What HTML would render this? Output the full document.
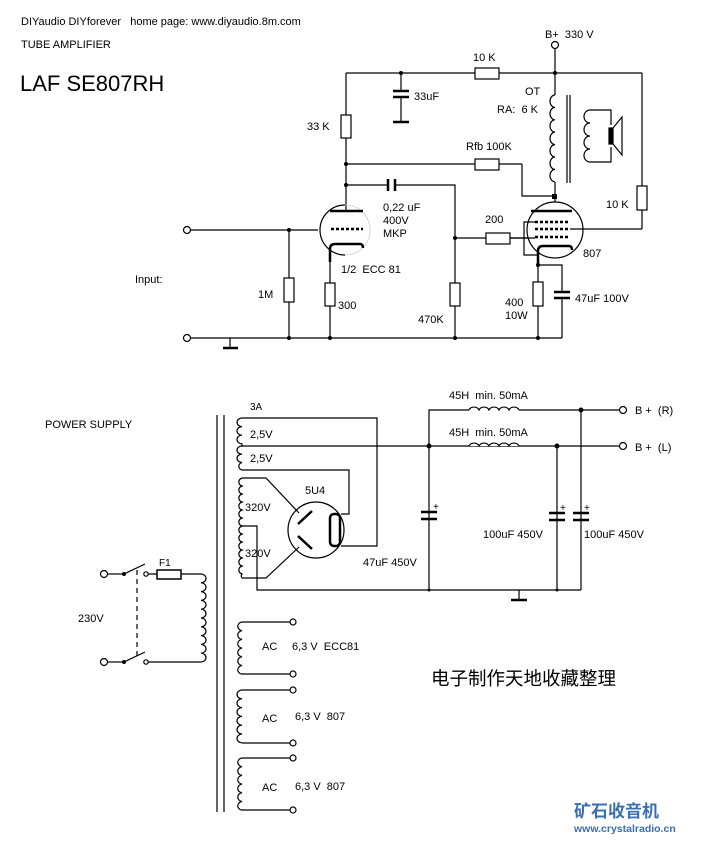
<!DOCTYPE html>
<html><head><meta charset="utf-8"><style>
html,body{margin:0;padding:0;background:#fff}
svg{display:block}
text{font-family:"Liberation Sans",Arial,sans-serif;fill:#000;font-size:11px}
</style></head><body>
<svg width="704" height="844" viewBox="0 0 704 844" xmlns="http://www.w3.org/2000/svg">
<g stroke="#000" stroke-width="1.2" fill="none">
<line x1="346" y1="73" x2="642" y2="73"/>
<line x1="555" y1="49" x2="555" y2="95"/>
<circle cx="555" cy="45" r="3.5" fill="#fff"/>
<rect x="475" y="68" width="24" height="11" fill="#fff"/>
<line x1="401" y1="73" x2="401" y2="91"/>
<line x1="393" y1="91" x2="409" y2="91" stroke-width="2.5"/>
<line x1="393" y1="97" x2="409" y2="97" stroke-width="2.5"/>
<line x1="401" y1="97" x2="401" y2="122"/>
<line x1="393" y1="122" x2="409" y2="122" stroke-width="2.5"/>
<line x1="346" y1="73" x2="346" y2="211"/>
<rect x="341" y="115" width="10" height="23" fill="#fff"/>
<line x1="346" y1="164" x2="522" y2="164"/>
<rect x="475" y="159" width="24" height="11" fill="#fff"/>
<polyline points="522,164 522,196 555,196"/>
<line x1="346" y1="185" x2="388" y2="185"/>
<line x1="388" y1="179" x2="388" y2="191" stroke-width="2.5"/>
<line x1="395" y1="179" x2="395" y2="191" stroke-width="2.5"/>
<polyline points="395,185 455,185 455,338"/>
<rect x="450" y="283" width="10" height="23" fill="#fff"/>
<path d="M345,205 A25,25 0 0 0 345,255"/>
<path d="M345,205 A25,25 0 0 1 345,255" stroke="#ccc" stroke-width="0.8"/>
<line x1="330" y1="211" x2="363" y2="211" stroke-width="2.5"/>
<line x1="331" y1="229" x2="363" y2="229" stroke-width="2.5" stroke-dasharray="3,2"/>
<path d="M330,262 L330,249 Q330,244 335,244 L360,244 Q363,244 363,248" stroke-width="2.5"/>
<line x1="330" y1="262" x2="330" y2="338"/>
<rect x="325" y="283" width="10" height="23" fill="#fff"/>
<line x1="190" y1="230" x2="318" y2="230"/>
<circle cx="187" cy="230" r="3.5" fill="#fff"/>
<line x1="190" y1="338" x2="562" y2="338"/>
<circle cx="187" cy="338" r="3.5" fill="#fff"/>
<line x1="289" y1="230" x2="289" y2="338"/>
<rect x="284" y="278" width="10" height="24" fill="#fff"/>
<line x1="230" y1="338" x2="230" y2="348"/>
<line x1="223" y1="348" x2="238" y2="348" stroke-width="2.5"/>
<line x1="455" y1="238" x2="540" y2="238"/>
<rect x="486" y="233" width="24" height="11" fill="#fff"/>
<line x1="555" y1="182" x2="555" y2="211"/>
<circle cx="555" cy="230" r="28" fill="#fff"/>
<line x1="531" y1="211" x2="572" y2="211" stroke-width="2.5"/>
<line x1="535" y1="222" x2="570" y2="222" stroke-width="2.5" stroke-dasharray="3,2"/>
<line x1="535" y1="229" x2="570" y2="229" stroke-width="2.5" stroke-dasharray="3,2"/>
<line x1="535" y1="237" x2="570" y2="237" stroke-width="2.5" stroke-dasharray="3,2"/>
<line x1="510" y1="238" x2="535" y2="238"/>
<polyline points="535,222 524,222 524,255 538,255"/>
<line x1="570" y1="229" x2="642" y2="229"/>
<path d="M538,265 L538,251 Q538,246 543,246 L569,246 Q572,246 572,250" stroke-width="2.5"/>
<line x1="538" y1="265" x2="538" y2="338"/>
<rect x="533" y="282" width="10" height="24" fill="#fff"/>
<polyline points="538,265 562,265 562,292"/>
<line x1="554" y1="292" x2="570" y2="292" stroke-width="2.5"/>
<line x1="554" y1="298" x2="570" y2="298" stroke-width="2.5"/>
<line x1="562" y1="298" x2="562" y2="338"/>
<line x1="642" y1="73" x2="642" y2="229"/>
<rect x="637" y="186" width="10" height="24" fill="#fff"/>
<path d="M555,95 a5,6.2 0 0 0 0,12.4 a5,6.2 0 0 0 0,12.4 a5,6.2 0 0 0 0,12.4 a5,6.2 0 0 0 0,12.4 a5,6.2 0 0 0 0,12.4 a5,6.2 0 0 0 0,12.4 a5,6.2 0 0 0 0,12.4"/>
<line x1="567" y1="95" x2="567" y2="183"/>
<line x1="570" y1="95" x2="570" y2="183"/>
<path d="M590,110 a6,6.5 0 0 0 0,13 a6,6.5 0 0 0 0,13 a6,6.5 0 0 0 0,13 a6,6.5 0 0 0 0,13"/>
<polyline points="590,110 611,110 611,125"/>
<polyline points="590,162 611,162 611,147"/>
<rect x="609" y="128" width="4" height="16" fill="#000"/>
<polyline points="613,128 622,117 622,155 613,144"/>
</g>
<g fill="#000">
<circle cx="401" cy="73" r="2"/><circle cx="555" cy="73" r="2"/>
<circle cx="346" cy="164" r="2"/><circle cx="346" cy="185" r="2"/>
<circle cx="289" cy="230" r="2"/><circle cx="289" cy="338" r="2"/>
<circle cx="330" cy="338" r="2"/><circle cx="455" cy="238" r="2"/>
<circle cx="455" cy="338" r="2"/><circle cx="538" cy="338" r="2"/>
<circle cx="538" cy="265" r="2"/><rect x="552" y="194" width="5" height="5"/>
</g>
<text x="21" y="25">DIYaudio DIYforever &#160;&#160;home page: www.diyaudio.8m.com</text>
<text x="21" y="48">TUBE AMPLIFIER</text>
<text x="20" y="91" style="font-size:22px">LAF SE807RH</text>
<text x="545" y="38">B+ &#160;330 V</text>
<text x="473" y="61">10 K</text>
<text x="414" y="100">33uF</text>
<text x="525" y="95">OT</text>
<text x="497" y="113">RA: &#160;6 K</text>
<text x="307" y="130">33 K</text>
<text x="466" y="150">Rfb 100K</text>
<text x="383" y="211">0,22 uF</text>
<text x="383" y="224">400V</text>
<text x="383" y="237">MKP</text>
<text x="485" y="223">200</text>
<text x="606" y="208">10 K</text>
<text x="583" y="257">807</text>
<text x="341" y="273">1/2 &#160;ECC 81</text>
<text x="135" y="283">Input:</text>
<text x="258" y="298">1M</text>
<text x="338" y="309">300</text>
<text x="418" y="323">470K</text>
<text x="505" y="306">400</text>
<text x="505" y="319">10W</text>
<text x="575" y="302">47uF 100V</text>

<g stroke="#000" stroke-width="1.2" fill="none">
<line x1="217" y1="415" x2="217" y2="812"/>
<line x1="224" y1="415" x2="224" y2="812"/>
<path d="M242,418 a5,4.3 0 0 0 0,8.6 a5,4.3 0 0 0 0,8.6 a5,4.3 0 0 0 0,8.6 a5,4.3 0 0 0 0,2.2 a5,4.1 0 0 0 0,8.2 a5,4.1 0 0 0 0,8.2 a5,4.1 0 0 0 0,7.6"/>
<polyline points="242,418 377,418 377,546 341,546"/>
<line x1="242" y1="446" x2="620" y2="446"/>
<polyline points="242,470 349,470 349,514 341,514"/>
<path d="M242,478 a5,4.3 0 0 0 0,8 a5,4.3 0 0 0 0,8 a5,4.3 0 0 0 0,8 a5,4.3 0 0 0 0,8 a5,4.3 0 0 0 0,8 a5,4.3 0 0 0 0,8 a5,4.3 0 0 0 0,8 a5,4.3 0 0 0 0,8 a5,4.3 0 0 0 0,8 a5,4.3 0 0 0 0,8 a5,4.3 0 0 0 0,8 a5,4.3 0 0 0 0,8 a5,4 0 0 0 0,4"/>
<polyline points="242,478 266,478 299,513"/>
<polyline points="242,578 266,578 299,547"/>
<polyline points="242,526 257,526 257,590 581,590"/>
<circle cx="316" cy="530" r="28"/>
<line x1="298" y1="524" x2="312" y2="511" stroke-width="2.5"/>
<line x1="298" y1="536" x2="312" y2="549" stroke-width="2.5"/>
<rect x="330" y="514" width="10" height="32" rx="4" stroke-width="2.5"/>
<polyline points="429,590 429,410 469,410"/>
<path d="M469,410 a5.5,5 0 0 1 10,0 a5.5,5 0 0 1 10,0 a5.5,5 0 0 1 10,0 a5.5,5 0 0 1 10,0 a5.5,5 0 0 1 10,0"/>
<line x1="519" y1="410" x2="620" y2="410"/>
<path d="M469,446 a5.5,5 0 0 1 10,0 a5.5,5 0 0 1 10,0 a5.5,5 0 0 1 10,0 a5.5,5 0 0 1 10,0 a5.5,5 0 0 1 10,0" fill="#fff"/>
<circle cx="623" cy="410" r="3.5" fill="#fff"/>
<circle cx="623" cy="446" r="3.5" fill="#fff"/>
<line x1="557" y1="446" x2="557" y2="590"/>
<line x1="581" y1="410" x2="581" y2="590"/>
<g stroke-width="2.5">
<line x1="421" y1="512" x2="437" y2="512"/><line x1="421" y1="519" x2="437" y2="519"/>
<line x1="549" y1="513" x2="565" y2="513"/><line x1="549" y1="520" x2="565" y2="520"/>
<line x1="573" y1="513" x2="589" y2="513"/><line x1="573" y1="520" x2="589" y2="520"/>
<line x1="511" y1="600" x2="527" y2="600"/>
</g>
<line x1="519" y1="590" x2="519" y2="600"/>
<circle cx="104" cy="574" r="3.5" fill="#fff"/>
<circle cx="104" cy="662" r="3.5" fill="#fff"/>
<line x1="108" y1="574" x2="124" y2="574"/>
<line x1="108" y1="662" x2="124" y2="662"/>
<line x1="124" y1="574" x2="145" y2="564"/>
<line x1="124" y1="662" x2="145" y2="652"/>
<circle cx="146" cy="574" r="2.2" fill="#fff"/>
<circle cx="146" cy="662" r="2.2" fill="#fff"/>
<line x1="137" y1="570" x2="137" y2="658" stroke-dasharray="5,4"/>
<line x1="148" y1="574" x2="201" y2="574"/>
<rect x="157" y="570" width="24" height="9" fill="#fff" stroke-width="1.5"/>
<path d="M201,574 a5,4.4 0 0 1 0,8.8 a5,4.4 0 0 1 0,8.8 a5,4.4 0 0 1 0,8.8 a5,4.4 0 0 1 0,8.8 a5,4.4 0 0 1 0,8.8 a5,4.4 0 0 1 0,8.8 a5,4.4 0 0 1 0,8.8 a5,4.4 0 0 1 0,8.8 a5,4.4 0 0 1 0,8.8 a5,4.4 0 0 1 0,8.8"/>
<line x1="148" y1="662" x2="201" y2="662"/>
<path d="M242,622 a5,4.4 0 0 0 0,8.7 a5,4.4 0 0 0 0,8.7 a5,4.4 0 0 0 0,8.7 a5,4.4 0 0 0 0,8.7 a5,4.4 0 0 0 0,8.7 a5,4.4 0 0 0 0,8.7"/>
<line x1="242" y1="622" x2="290" y2="622"/><line x1="242" y1="674" x2="290" y2="674"/>
<circle cx="293" cy="622" r="3" fill="#fff"/><circle cx="293" cy="674" r="3" fill="#fff"/>
<path d="M242,690 a5,4.4 0 0 0 0,8.8 a5,4.4 0 0 0 0,8.8 a5,4.4 0 0 0 0,8.8 a5,4.4 0 0 0 0,8.8 a5,4.4 0 0 0 0,8.8 a5,4.4 0 0 0 0,8.8"/>
<line x1="242" y1="690" x2="290" y2="690"/><line x1="242" y1="743" x2="290" y2="743"/>
<circle cx="293" cy="690" r="3" fill="#fff"/><circle cx="293" cy="743" r="3" fill="#fff"/>
<path d="M242,758 a5,4.4 0 0 0 0,8.7 a5,4.4 0 0 0 0,8.7 a5,4.4 0 0 0 0,8.7 a5,4.4 0 0 0 0,8.7 a5,4.4 0 0 0 0,8.7 a5,4.4 0 0 0 0,8.7"/>
<line x1="242" y1="758" x2="290" y2="758"/><line x1="242" y1="810" x2="290" y2="810"/>
<circle cx="293" cy="758" r="3" fill="#fff"/><circle cx="293" cy="810" r="3" fill="#fff"/>
</g>
<g fill="#000">
<circle cx="429" cy="446" r="2.5"/><circle cx="557" cy="446" r="2.5"/>
<circle cx="581" cy="410" r="2.5"/><circle cx="429" cy="590" r="1.5"/>
<circle cx="557" cy="590" r="1.5"/><circle cx="124" cy="574" r="2"/><circle cx="124" cy="662" r="2"/>
</g>
<text x="45" y="428">POWER SUPPLY</text>
<text x="250" y="410" style="font-size:10px">3A</text>
<text x="250" y="438">2,5V</text>
<text x="250" y="462">2,5V</text>
<text x="305" y="494">5U4</text>
<text x="245" y="511">320V</text>
<text x="245" y="557">320V</text>
<text x="363" y="566">47uF 450V</text>
<text x="483" y="538">100uF 450V</text>
<text x="584" y="538">100uF 450V</text>
<text x="449" y="399">45H &#160;min. 50mA</text>
<text x="449" y="436">45H &#160;min. 50mA</text>
<text x="433" y="510" style="font-size:10px">+</text>
<text x="560" y="511" style="font-size:10px">+</text>
<text x="584" y="511" style="font-size:10px">+</text>
<text x="635" y="414">B + &#160;(R)</text>
<text x="635" y="451">B + &#160;(L)</text>
<text x="159" y="566" style="font-size:10px">F1</text>
<text x="78" y="622">230V</text>
<text x="262" y="650">AC</text>
<text x="292" y="650">6,3 V &#160;ECC81</text>
<text x="262" y="722">AC</text>
<text x="295" y="720">6,3 V &#160;807</text>
<text x="262" y="791">AC</text>
<text x="295" y="790">6,3 V &#160;807</text>
<text x="431" y="685" style="font-size:18.5px;font-family:'Liberation Sans','Noto Sans CJK SC',sans-serif">电子制作天地收藏整理</text>
<text x="574" y="817" style="font-size:17px;font-weight:bold;fill:#3b6fb0;font-family:'Noto Sans CJK SC',sans-serif">矿石收音机</text>
<text x="574" y="832" style="font-size:10.5px;font-weight:bold;fill:#3b6fb0">www.crystalradio.cn</text>
</svg>
</body></html>
